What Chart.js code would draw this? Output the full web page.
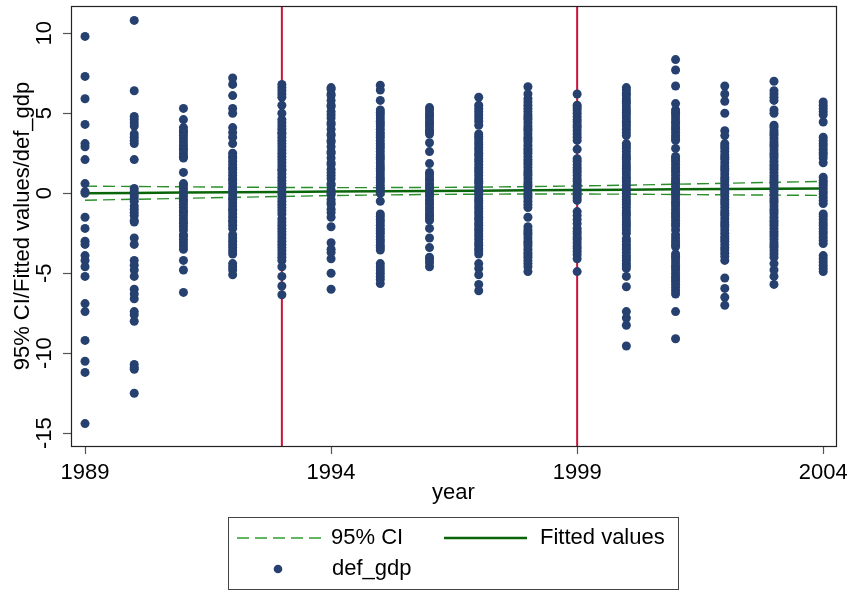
<!DOCTYPE html>
<html><head><meta charset="utf-8">
<script src="https://cdn.jsdelivr.net/npm/chart.js@4.4.1/dist/chart.umd.min.js"></script>
<style>html,body{margin:0;padding:0;background:#fff}canvas{display:block}</style>
</head><body>
<canvas id="c" width="847" height="590"></canvas>
<script>
// ---------- data ----------
const years = [1989,1990,1991,1992,1993,1994,1995,1996,1997,1998,1999,2000,2001,2002,2003,2004];
const xTicks = [1989,1994,1999,2004];
const yTicks = [-15,-10,-5,0,5,10];
const vLines = [1993,1999];
const xRange = [1988.715, 2004.26];
const yRange = [-15.8, 11.7];

const def1989 = [9.8,7.3,5.9,4.3,3.1,2.9,2.1,0.6,0.1,0.0,-1.5,-2.2,-3.0,-3.2,-3.9,-4.2,-4.6,-5.2,-6.9,-7.4,-9.2,-10.5,-11.2,-14.4];
const def1990 = [10.8,6.4,4.8,4.6,4.4,4.2,3.7,3.5,3.3,3.1,2.1,0.3,0.1,-0.1,-0.3,-0.5,-0.8,-1.0,-1.2,-1.4,-1.7,-1.8,-2.8,-3.2,-4.2,-4.5,-4.8,-5.2,-6.0,-6.3,-6.6,-7.4,-7.6,-8.0,-10.7,-10.9,-11.0,-12.5];
const def1991 = [5.3,4.6,4.1,3.9,3.8,3.6,3.4,3.2,3.0,2.8,2.7,2.5,2.3,2.2,1.3,0.6,0.5,0.3,0.1,0.0,-0.2,-0.4,-0.5,-0.7,-0.9,-1.1,-1.2,-1.4,-1.6,-1.8,-1.9,-2.1,-2.3,-2.6,-2.7,-2.9,-3.1,-3.3,-3.5,-4.2,-4.8,-6.2];
const def1992 = [7.2,6.8,6.1,5.3,5.0,4.1,3.8,3.5,3.1,2.5,2.3,2.2,2.0,1.8,1.6,1.5,1.3,1.1,0.9,0.8,0.6,0.4,0.2,0.1,-0.1,-0.3,-0.4,-0.6,-0.8,-1.0,-1.1,-1.3,-1.5,-1.7,-1.8,-2.0,-2.2,-2.6,-2.8,-3.0,-3.2,-3.4,-3.6,-3.8,-4.4,-4.6,-4.8,-5.1];
const def1993 = [6.8,6.6,6.4,6.2,6.0,5.5,5.0,4.6,4.4,4.2,4.0,3.8,3.7,3.5,3.3,3.1,2.9,2.7,2.5,2.3,2.1,1.9,1.7,1.5,1.4,1.2,1.0,0.8,0.6,0.4,0.3,0.1,-0.1,-0.3,-0.5,-0.7,-0.9,-1.1,-1.3,-1.6,-1.8,-2.0,-2.2,-2.4,-2.6,-2.8,-3.0,-3.2,-3.4,-3.6,-3.8,-4.0,-4.2,-4.6,-5.2,-5.8,-6.35];
const def1994 = [6.6,6.5,6.2,6.1,5.8,5.5,5.4,5.1,4.9,4.7,4.4,4.3,4.0,3.7,3.6,3.3,3.2,2.9,2.6,2.5,2.2,1.9,1.8,1.5,1.3,1.1,0.9,0.6,0.5,0.2,0.0,-0.1,-0.4,-0.6,-0.7,-1.0,-1.2,-1.5,-2.1,-3.1,-3.5,-3.7,-4.1,-5.0,-6.0];
const def1995 = [6.75,6.45,5.8,5.2,5.05,4.9,4.7,4.5,4.35,4.2,4.0,3.8,3.65,3.5,3.3,3.1,2.95,2.8,2.6,2.4,2.25,2.1,1.9,1.7,1.55,1.4,1.2,1.0,0.85,0.7,0.5,0.3,0.15,0.0,-0.5,-1.3,-1.45,-1.65,-1.8,-2.0,-2.2,-2.35,-2.5,-2.7,-2.9,-3.05,-3.25,-3.4,-3.55,-4.4,-4.6,-4.8,-5.0,-5.2,-5.4,-5.65];
const def1996 = [5.35,5.2,5.0,4.85,4.7,4.5,4.35,4.2,4.0,3.85,3.7,3.15,2.6,1.85,1.3,1.15,0.95,0.8,0.6,0.45,0.3,0.1,-0.05,-0.2,-0.4,-0.55,-0.7,-0.9,-1.05,-1.25,-1.4,-1.55,-1.7,-2.2,-2.8,-3.4,-4.0,-4.15,-4.35,-4.6];
const def1997 = [6.0,5.5,5.3,5.1,4.9,4.7,4.5,4.25,3.7,3.55,3.4,3.2,3.05,2.85,2.7,2.5,2.35,2.15,2.0,1.8,1.6,1.45,1.3,1.1,0.9,0.75,0.6,0.4,0.2,0.05,-0.1,-0.3,-0.45,-0.6,-0.8,-0.95,-1.15,-1.3,-1.5,-1.65,-1.85,-2.0,-2.2,-2.35,-2.55,-2.7,-2.9,-3.1,-3.25,-3.45,-3.6,-3.8,-4.4,-4.7,-5.1,-5.7,-6.1];
const def1998 = [6.65,6.2,5.9,5.7,5.5,5.3,5.1,4.9,4.75,4.6,4.4,4.2,4.05,3.9,3.7,3.5,3.35,3.2,3.0,2.8,2.65,2.5,2.3,2.1,1.95,1.8,1.6,1.4,1.25,1.1,0.9,0.7,0.55,0.4,0.2,0.0,-0.15,-0.3,-0.5,-0.7,-0.9,-1.5,-2.1,-2.3,-2.45,-2.6,-2.8,-3.0,-3.15,-3.3,-3.5,-3.7,-3.85,-4.0,-4.2,-4.4,-4.6,-4.9];
const def1999 = [6.2,5.5,5.35,5.2,5.0,4.8,4.6,4.45,4.25,4.1,3.9,3.7,3.5,3.3,2.75,2.15,2.0,1.8,1.6,1.45,1.3,1.1,0.9,0.75,0.55,0.4,0.2,0.05,-0.15,-0.3,-0.45,-1.15,-1.4,-1.65,-1.9,-2.2,-2.4,-2.55,-2.75,-2.9,-3.1,-3.3,-3.45,-3.65,-3.85,-4.1,-4.9];
const def2000 = [6.6,6.45,6.25,6.1,5.9,5.75,5.6,5.4,5.2,5.05,4.9,4.7,4.5,4.35,4.2,4.0,3.8,3.6,3.1,2.95,2.8,2.6,2.4,2.25,2.1,1.9,1.7,1.55,1.4,1.2,1.0,0.85,0.7,0.5,0.3,0.15,0.0,-0.2,-0.4,-0.55,-0.7,-0.9,-1.1,-1.25,-1.4,-1.6,-1.8,-1.95,-2.1,-2.3,-2.5,-2.85,-3.0,-3.2,-3.35,-3.5,-3.7,-3.9,-4.05,-4.2,-4.4,-4.55,-4.7,-5.2,-5.85,-7.4,-7.8,-8.25,-9.55];
const def2001 = [8.35,7.7,6.7,5.6,5.2,5.05,4.9,4.7,4.5,4.35,4.15,4.0,3.8,3.6,3.45,3.3,2.8,2.3,2.15,2.0,1.8,1.6,1.45,1.3,1.1,0.9,0.75,0.6,0.4,0.2,0.05,-0.1,-0.3,-0.5,-0.65,-0.8,-1.0,-1.2,-1.35,-1.5,-1.7,-1.9,-2.05,-2.3,-2.6,-2.8,-3.0,-3.2,-3.35,-3.8,-3.95,-4.1,-4.3,-4.5,-4.65,-4.8,-5.0,-5.2,-5.35,-5.5,-5.7,-5.9,-6.1,-6.3,-7.4,-9.1];
const def2002 = [6.7,6.2,5.75,5.0,3.9,3.6,3.1,2.95,2.8,2.6,2.4,2.25,2.1,1.9,1.7,1.55,1.4,1.2,1.0,0.85,0.7,0.5,0.3,0.15,0.0,-0.2,-0.4,-0.55,-0.7,-0.9,-1.1,-1.25,-1.4,-1.6,-1.8,-1.95,-2.1,-2.3,-2.5,-2.7,-2.85,-3.0,-3.2,-3.4,-3.55,-3.75,-3.95,-4.2,-5.3,-5.95,-6.5,-7.0];
const def2003 = [7.0,6.4,6.2,6.0,5.8,5.2,5.0,4.25,4.1,3.9,3.75,3.6,3.4,3.2,3.05,2.9,2.7,2.5,2.35,2.2,2.0,1.8,1.65,1.5,1.3,1.1,0.95,0.8,0.6,0.4,0.25,0.1,-0.1,-0.3,-0.45,-0.6,-0.8,-1.0,-1.15,-1.3,-1.5,-1.7,-1.85,-2.0,-2.2,-2.4,-2.55,-2.7,-2.9,-3.1,-3.25,-3.4,-3.6,-3.8,-4.0,-4.4,-4.8,-5.2,-5.7];
const def2004 = [5.7,5.5,5.3,5.1,4.9,4.45,3.5,3.3,3.1,2.95,2.75,2.55,2.4,2.2,1.9,1.0,0.8,0.65,0.5,0.3,0.1,-0.05,-0.25,-0.45,-0.65,-1.3,-1.45,-1.65,-1.85,-2.0,-2.2,-2.4,-2.55,-2.75,-2.95,-3.15,-3.9,-4.1,-4.3,-4.5,-4.7,-4.9];

const fitted  = [0.00,0.02,0.04,0.06,0.08,0.10,0.12,0.14,0.16,0.18,0.20,0.22,0.24,0.26,0.28,0.30];
const ciUpper = [0.44,0.42,0.40,0.38,0.36,0.35,0.35,0.36,0.38,0.41,0.45,0.50,0.56,0.62,0.68,0.74];
const ciLower = [-0.44,-0.38,-0.32,-0.26,-0.20,-0.15,-0.11,-0.08,-0.06,-0.05,-0.05,-0.06,-0.08,-0.10,-0.12,-0.14];

// ---------- build ----------
const defByYear = [def1989,def1990,def1991,def1992,def1993,def1994,def1995,def1996,def1997,def1998,def1999,def2000,def2001,def2002,def2003,def2004];
const scatterData = [];
years.forEach((yr,i)=>defByYear[i].forEach(v=>scatterData.push({x:yr,y:v})));
const toXY = arr => years.map((yr,i)=>({x:yr,y:arr[i]}));

const FONT = "'Liberation Sans', Arial, Helvetica, sans-serif";
Chart.defaults.font.family = FONT;
Chart.defaults.font.size = 22;
Chart.defaults.color = '#000';

const DOT = '#26406f', CI = '#2a8f2a', CILEG = '#2ca02c', FIT = '#0a640a', RED = '#c8143c';

const extras = {
  id:'extras',
  afterDraw(chart){
    const {ctx, chartArea:ca, scales:{y}} = chart;
    ctx.save();
    // plot region border
    ctx.strokeStyle = '#222'; ctx.lineWidth = 1.2;
    ctx.strokeRect(Math.round(ca.left)+0.5, Math.round(ca.top)+0.5, Math.round(ca.right-ca.left), Math.round(ca.bottom-ca.top));
    // rotated y tick labels
    ctx.fillStyle = '#000';
    ctx.font = "22px " + FONT;
    ctx.textAlign = 'center'; ctx.textBaseline = 'middle';
    yTicks.forEach(v=>{
      const py = y.getPixelForValue(v);
      ctx.save(); ctx.translate(45, py); ctx.rotate(-Math.PI/2);
      ctx.fillText(String(v), 0, 0); ctx.restore();
    });
    // legend
    ctx.strokeStyle = '#444'; ctx.lineWidth = 1;
    ctx.strokeRect(228.5, 517.5, 450, 72);
    const r1 = 538, r2 = 569;
    ctx.setLineDash([12,6]); ctx.strokeStyle = CILEG; ctx.lineWidth = 1.4;
    ctx.beginPath(); ctx.moveTo(237, r1); ctx.lineTo(321, r1); ctx.stroke();
    ctx.setLineDash([]); ctx.strokeStyle = FIT; ctx.lineWidth = 2.5;
    ctx.beginPath(); ctx.moveTo(444, r1); ctx.lineTo(527, r1); ctx.stroke();
    ctx.fillStyle = DOT; ctx.beginPath(); ctx.arc(278, r2, 4.3, 0, Math.PI*2); ctx.fill();
    ctx.fillStyle = '#000'; ctx.textAlign = 'left';
    ctx.fillText('95% CI', 331, r1);
    ctx.fillText('Fitted values', 540, r1);
    ctx.fillText('def_gdp', 332, r2);
    ctx.restore();
  }
};

const lineDs = (label, arr, color, width, dash, order) => ({
  label, data: toXY(arr), showLine:true, pointRadius:0, borderColor:color,
  borderWidth:width, borderDash:dash, order, fill:false
});

new Chart(document.getElementById('c'), {
  type:'scatter',
  data:{ datasets:[
    {label:'def_gdp', data:scatterData, pointRadius:4.5, pointHoverRadius:4.5,
     pointBackgroundColor:DOT, pointBorderColor:DOT, pointBorderWidth:0, showLine:false, order:1},
    lineDs('Fitted values', fitted, FIT, 2.5, [], 2),
    lineDs('95% CI', ciUpper, CI, 1.4, [12,6], 3),
    lineDs('95% CI (lower)', ciLower, CI, 1.4, [12,6], 3),
    ...vLines.map(v=>({label:'xline '+v, data:[{x:v,y:yRange[0]},{x:v,y:yRange[1]}],
      showLine:true, pointRadius:0, borderColor:RED, borderWidth:2, order:4}))
  ]},
  options:{
    responsive:false, animation:false, devicePixelRatio:1,
    layout:{padding:{top:6,right:11,left:0,bottom:0}},
    plugins:{legend:{display:false}, tooltip:{enabled:false}},
    scales:{
      x:{type:'linear', min:xRange[0], max:xRange[1],
        afterBuildTicks:s=>{s.ticks = xTicks.map(v=>({value:v}));},
        afterFit:s=>{s.height = 144; s.paddingLeft = 0; s.paddingRight = 0;},
        grid:{drawOnChartArea:false, drawTicks:true, tickLength:8, tickColor:'#555', tickWidth:1.2},
        border:{display:false},
        ticks:{padding:6, color:'#000', font:{size:22}, autoSkip:false, maxRotation:0, callback:v=>String(v)},
        title:{display:true, text:'year', color:'#000', font:{size:22}, padding:{top:0,bottom:84}}
      },
      y:{type:'linear', min:yRange[0], max:yRange[1],
        afterBuildTicks:s=>{s.ticks = yTicks.map(v=>({value:v}));},
        afterFit:s=>{s.width = 71; s.paddingTop = 0; s.paddingBottom = 0;},
        grid:{drawOnChartArea:false, drawTicks:true, tickLength:8, tickColor:'#555', tickWidth:1.2},
        border:{display:false},
        ticks:{color:'rgba(0,0,0,0)', callback:v=>String(v)},
        title:{display:true, text:'95% CI/Fitted values/def_gdp', color:'#000', font:{size:22}, padding:{top:10,bottom:0}}
      }
    }
  },
  plugins:[extras]
});
</script>
</body></html>
